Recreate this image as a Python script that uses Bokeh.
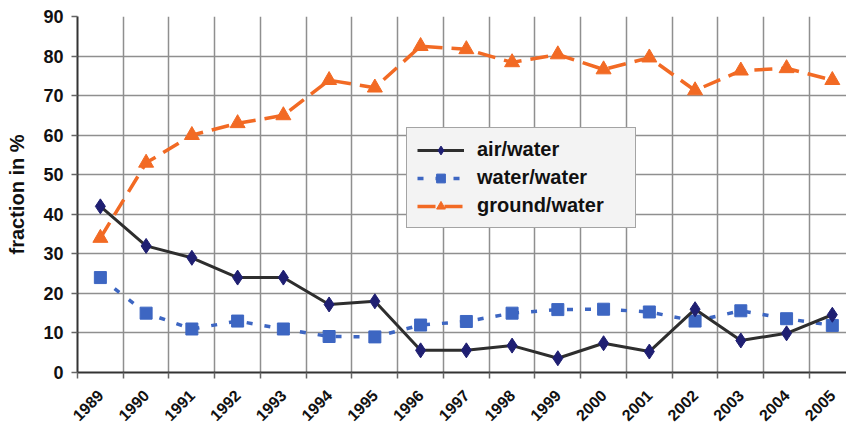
import math
from bokeh.plotting import figure
from bokeh.models import Range1d, FixedTicker, Legend, LegendItem, ColumnDataSource
from bokeh.embed import file_html
from bokeh.resources import INLINE

years = ["1989", "1990", "1991", "1992", "1993", "1994", "1995", "1996", "1997",
         "1998", "1999", "2000", "2001", "2002", "2003", "2004", "2005"]
air_water = [42, 32, 29, 24, 24, 17.2, 18, 5.6, 5.6, 6.8, 3.6, 7.4, 5.3, 16, 8.1, 9.9, 14.6]
water_water = [24, 15, 11, 13, 11, 9.1, 9, 12, 12.9, 15, 15.9, 16, 15.3, 13, 15.6, 13.6, 11.9]
ground_water = [34, 53, 60, 63, 65, 73.9, 72, 82.5, 81.7, 78.4, 80.4, 76.6, 79.6, 71.3, 76.3, 76.9, 73.9]
y_ticks = [0, 10, 20, 30, 40, 50, 60, 70, 80, 90]

xs = list(range(len(years)))
bounds = [i - 0.5 for i in range(len(years) + 1)]
src = ColumnDataSource(dict(x=xs, air=air_water, water=water_water, ground=ground_water))

FONT = "Liberation Sans"

p = figure(width=846, height=429, output_backend="svg", toolbar_location=None,
           x_range=Range1d(-0.5, 16.31), y_range=Range1d(0, 90),
           min_border_left=77, min_border_right=0, min_border_top=16, min_border_bottom=57)
p.outline_line_color = None
p.background_fill_color = "white"
p.border_fill_color = "white"

# grid
p.xgrid.ticker = FixedTicker(ticks=bounds)
p.ygrid.ticker = FixedTicker(ticks=y_ticks)
for g in (p.xgrid, p.ygrid):
    g.grid_line_color = "#8f8f8f"
    g.grid_line_width = 1.5

# x axis
p.xaxis.ticker = FixedTicker(ticks=xs, minor_ticks=bounds)
p.xaxis.major_label_overrides = {i: y for i, y in enumerate(years)}
p.xaxis.major_tick_line_color = None
p.xaxis.minor_tick_out = 6
p.xaxis.minor_tick_in = 0
p.xaxis.minor_tick_line_color = "#666666"
p.xaxis.minor_tick_line_width = 1.5
p.xaxis.axis_line_color = "#333333"
p.xaxis.axis_line_width = 2
p.xaxis.major_label_orientation = math.pi / 4
p.xaxis.major_label_text_font = FONT
p.xaxis.major_label_text_font_style = "bold"
p.xaxis.major_label_text_font_size = "16px"
p.xaxis.major_label_text_color = "#111111"
p.xaxis.major_label_standoff = 14

# y axis
p.yaxis.ticker = FixedTicker(ticks=y_ticks)
p.yaxis.minor_tick_line_color = None
p.yaxis.major_tick_out = 6
p.yaxis.major_tick_in = 0
p.yaxis.major_tick_line_color = "#666666"
p.yaxis.major_tick_line_width = 1.5
p.yaxis.axis_line_color = "#333333"
p.yaxis.axis_line_width = 2
p.yaxis.major_label_text_font = FONT
p.yaxis.major_label_text_font_style = "bold"
p.yaxis.major_label_text_font_size = "18px"
p.yaxis.major_label_text_color = "#111111"
p.yaxis.major_label_standoff = 8
p.yaxis.axis_label = "fraction in %"
p.yaxis.axis_label_text_font = FONT
p.yaxis.axis_label_text_font_style = "bold"
p.yaxis.axis_label_text_font_size = "20px"
p.yaxis.axis_label_text_color = "#111111"
p.yaxis.axis_label_standoff = 12

# series
ORANGE = "#f26a24"
BLUE = "#3d66c2"
NAVY = "#1f1f72"
DARK = "#2e2e2e"

gl = p.line("x", "ground", source=src, line_color=ORANGE, line_width=3.5, line_dash="18 9")
gm = p.scatter("x", "ground", source=src, marker="triangle", size=15,
               fill_color=ORANGE, line_color=ORANGE)
wl = p.line("x", "water", source=src, line_color=BLUE, line_width=3.5, line_dash="6 12")
wm = p.scatter("x", "water", source=src, marker="square", size=12,
               fill_color=BLUE, line_color=BLUE)
al = p.line("x", "air", source=src, line_color=DARK, line_width=3)
am = p.scatter("x", "air", source=src, marker="diamond", size=15,
               fill_color=NAVY, line_color=NAVY)

legend = Legend(items=[
    LegendItem(label="air/water", renderers=[al, am]),
    LegendItem(label="water/water", renderers=[wl, wm]),
    LegendItem(label="ground/water", renderers=[gl, gm]),
], location=(329, 144))
legend.label_text_font = FONT
legend.label_text_font_style = "bold"
legend.label_text_font_size = "20px"
legend.label_text_color = "#111111"
legend.glyph_width = 47
legend.glyph_height = 22
legend.label_height = 22
legend.label_width = 148
legend.label_standoff = 13
legend.spacing = 5
legend.padding = 10
legend.margin = 0
legend.border_line_color = "#555555"
legend.border_line_width = 1.5
legend.background_fill_color = "#f3f3f3"
legend.background_fill_alpha = 1.0
p.add_layout(legend, "center")

open("out.html", "w").write(file_html(p, INLINE))
